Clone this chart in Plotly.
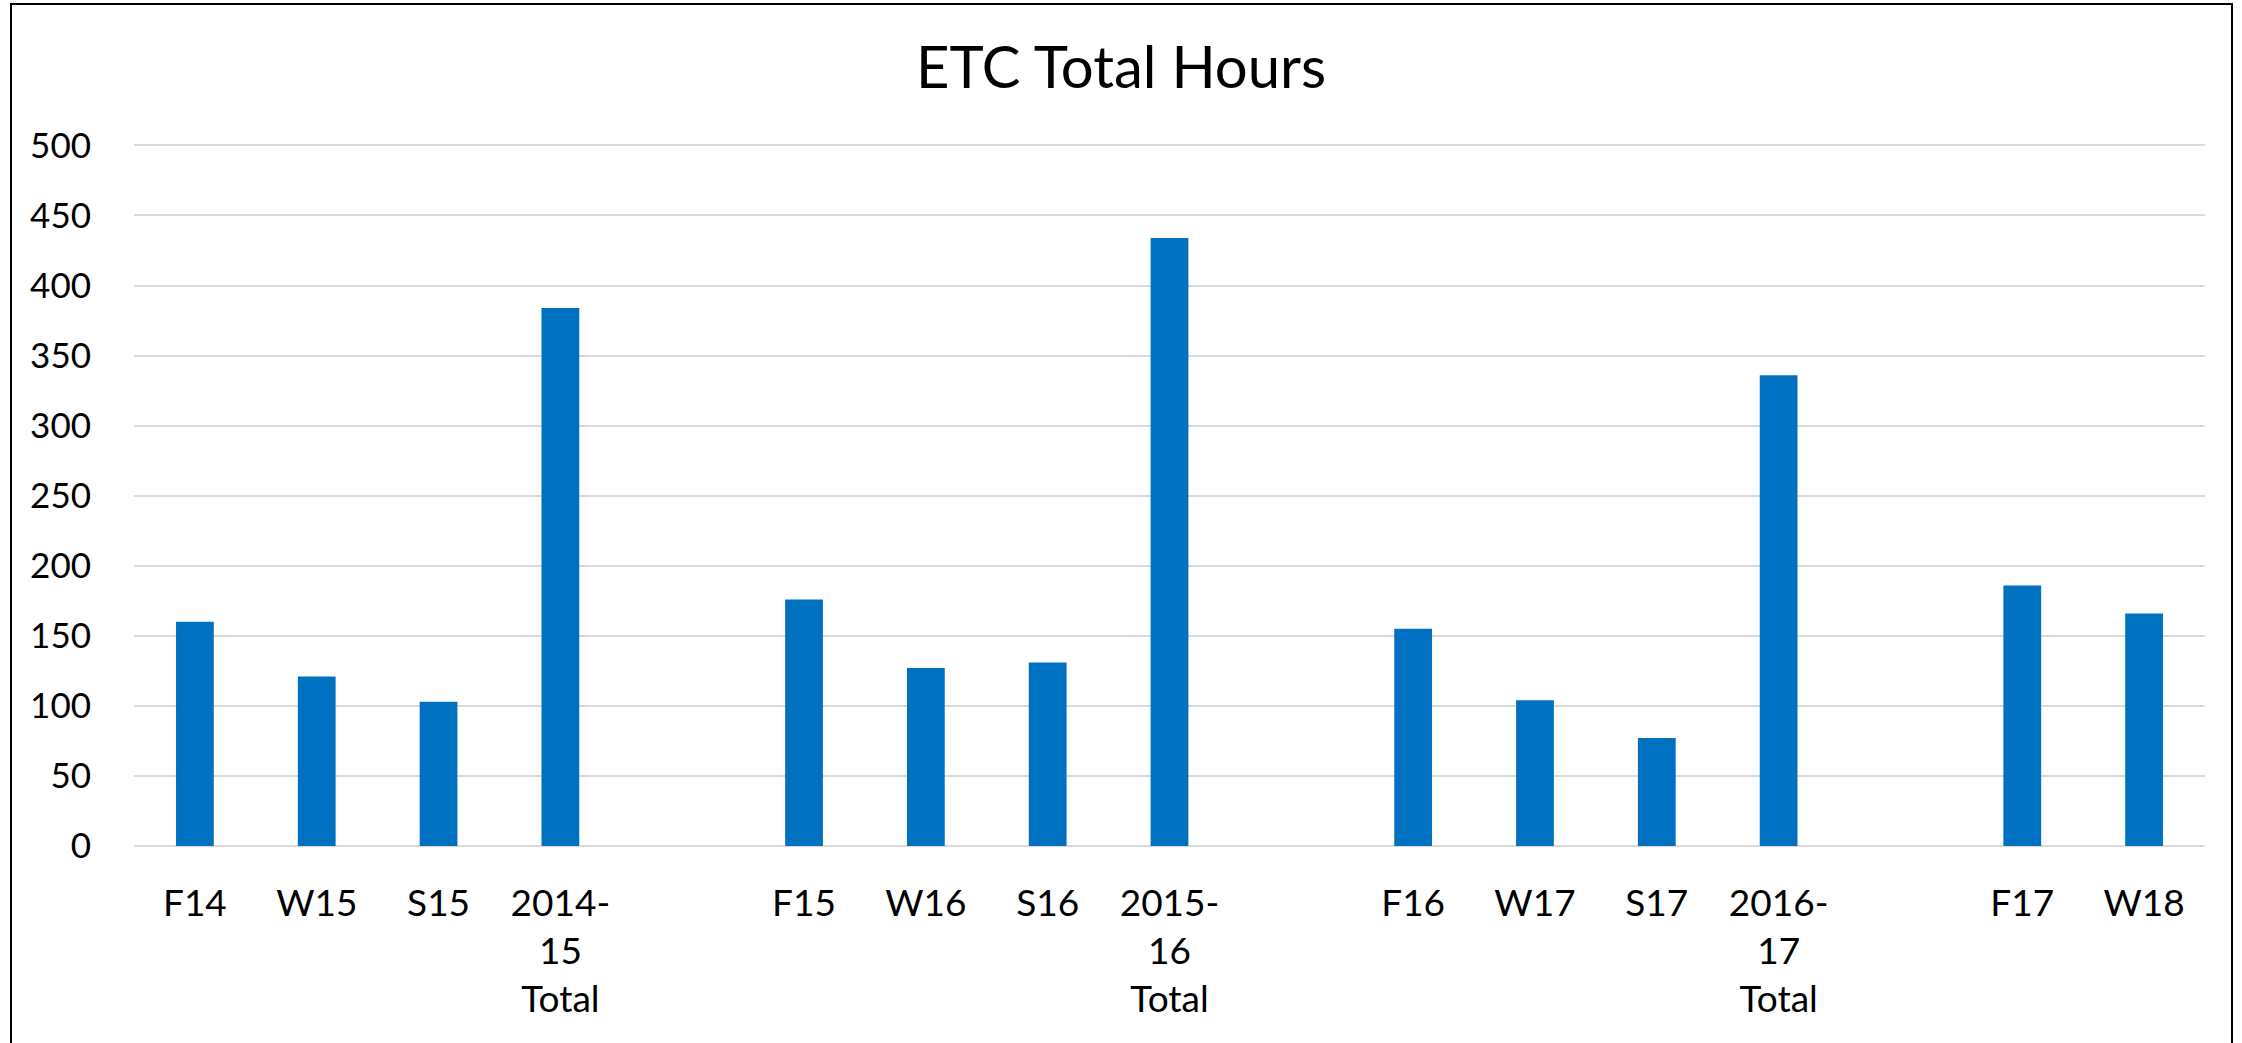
import plotly.graph_objects as go

categories = ["F14", "W15", "S15", "2014-<br>15<br>Total", " ",
              "F15", "W16", "S16", "2015-<br>16<br>Total", "  ",
              "F16", "W17", "S17", "2016-<br>17<br>Total", "   ",
              "F17", "W18"]
hours = [160, 121, 103, 384, None,
         176, 127, 131, 434, None,
         155, 104, 77, 336, None,
         186, 166]
y_ticks = [0, 50, 100, 150, 200, 250, 300, 350, 400, 450, 500]

W, H = 2242, 1043
L, R, T, B = 134, 37, 144, 197
pw, ph = W - L - R, H - T - B

fig = go.Figure(go.Bar(x=categories, y=hours, marker=dict(color="#0070c0", line=dict(width=0))))

fig.update_layout(
    width=W, height=H,
    margin=dict(l=L, r=R, t=T, b=B, autoexpand=False),
    paper_bgcolor="white", plot_bgcolor="white",
    font=dict(family="Lato, Calibri, sans-serif", size=35, color="#000000"),
    bargap=0.69,
    showlegend=False,
    title=dict(text="ETC Total Hours", x=0.5, xref="container", xanchor="center",
               y=1 - 68 / H, yref="container", yanchor="middle",
               font=dict(size=58, color="#000000")),
)
fig.update_xaxes(type="category", categoryorder="array", categoryarray=categories,
                 showgrid=False, showline=False, ticks="", ticklabelstandoff=32,
                 tickfont=dict(size=37))
fig.update_yaxes(range=[0, 501], tickvals=y_ticks, showgrid=True, gridcolor="#d9d9d9",
                 gridwidth=1.5, zeroline=True, zerolinecolor="#d9d9d9", zerolinewidth=1.5,
                 showline=False, ticks="", ticklabelstandoff=42, tickfont=dict(size=35))

# chart border
x0 = (11 - L) / pw
x1 = (2232 - L) / pw
y1 = (H - B - 4) / ph
fig.add_shape(type="rect", xref="paper", yref="paper", x0=x0, x1=x1, y0=-0.5, y1=y1,
              line=dict(color="#000000", width=2), fillcolor="rgba(0,0,0,0)", layer="above")

fig.write_html("out.html", config={"displayModeBar": False},
               post_script="document.body.style.margin='0px';")
